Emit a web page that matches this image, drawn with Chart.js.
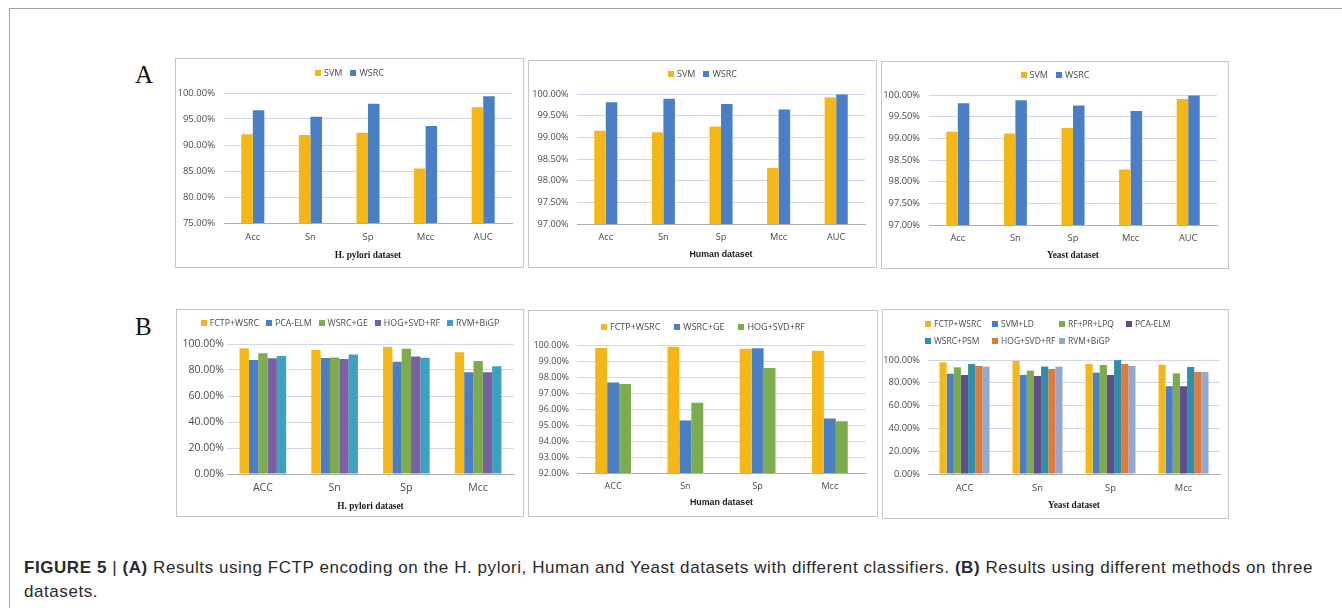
<!DOCTYPE html>
<html>
<head>
<meta charset="utf-8">
<script src="https://cdn.jsdelivr.net/npm/chart.js@4.4.0/dist/chart.umd.min.js"></script>
<style>
  html, body { margin: 0; padding: 0; background: #fff; }
  body { width: 1342px; height: 608px; position: relative; overflow: hidden; }
  #frame { position: absolute; left: 9px; top: 8px; width: 1340px; height: 610px;
           border-left: 1px solid #a2a2a2; border-top: 1px solid #a2a2a2; }
  .panel { position: absolute; box-sizing: border-box; border: 1px solid #c6c6c6; background: #fff; }
  .panel canvas { position: absolute; left: 0; top: 0; }
  .letter { position: absolute; font-family: "Liberation Serif", "DejaVu Serif", serif;
            font-size: 25px; line-height: 25px; color: #111; }
  #caption { position: absolute; left: 24px; top: 556px; white-space: nowrap;
             font-family: "Liberation Sans", Arial, sans-serif; font-size: 17px; line-height: 24px;
             color: #2a2a2a; }
  #caption b { font-weight: bold; }
  #caption span { display: inline-block; }
</style>
</head>
<body>
<div id="frame"></div>
<div class="letter" style="left:135px; top:62px;">A</div>
<div class="letter" style="left:135px; top:314px;">B</div>
<div id="caption"><span id="capLine1"><b>FIGURE 5</b> | <b>(A)</b> Results using FCTP encoding on the H. pylori, Human and Yeast datasets with different classifiers. <b>(B)</b> Results using different methods on three</span><br><span id="capLine2">datasets.</span></div>

<script>
// ---- categories ----
const metricsA = ['Acc', 'Sn', 'Sp', 'Mcc', 'AUC'];
const metricsB = ['ACC', 'Sn', 'Sp', 'Mcc'];

// ---- (A) FCTP encoding with two classifiers (percent) ----
const pyloriSVM  = [92.06, 91.92, 92.37, 85.50, 97.24];
const pyloriWSRC = [96.70, 95.45, 97.95, 93.65, 99.36];
const humanSVM   = [99.15, 99.12, 99.25, 98.29, 99.92];
const humanWSRC  = [99.81, 99.89, 99.77, 99.64, 99.99];
const yeastSVM   = [99.15, 99.11, 99.24, 98.28, 99.91];
const yeastWSRC  = [99.81, 99.88, 99.76, 99.63, 99.99];

// ---- (B) method comparison, H. pylori ----
const pyFCTP = [96.70, 95.45, 97.95, 93.65];
const pyPCA  = [87.70, 89.20, 86.40, 78.20];
const pyGE   = [92.80, 89.70, 96.30, 86.90];
const pyHOG  = [89.00, 88.50, 90.30, 78.20];
const pyRVM  = [90.70, 92.00, 89.50, 82.80];

// ---- (B) method comparison, Human ----
const huFCTP = [99.81, 99.89, 99.77, 99.64];
const huGE   = [97.65, 95.28, 99.80, 95.40];
const huHOG  = [97.56, 96.39, 98.57, 95.24];

// ---- (B) method comparison, Yeast ----
const yeFCTP = [98.00, 99.10, 96.50, 95.90];
const yeLD   = [88.00, 86.90, 88.90, 77.00];
const yeLPQ  = [93.60, 90.70, 95.60, 88.30];
const yePCA  = [86.90, 86.00, 86.90, 77.00];
const yePSM  = [96.50, 94.20, 99.90, 93.90];
const yeHOG  = [94.80, 92.10, 96.50, 89.50];
const yeRVM  = [94.20, 94.20, 94.80, 89.50];

// ---- palette ----
const C = {
  gold: '#f5b718', blue: '#4a7fc6', green: '#7eab4d', purple: '#7a5fa2',
  teal: '#3aa3bf', dpurple: '#614b8d', dteal: '#2d8fa9', orange: '#e07a38', lav: '#93a8d3'
};
const TXT = '#4a4a4a';
const GRID = '#cdd8ea';
const AXIS = '#b0b0b0';
const pct = v => Number(v).toFixed(2) + '%';

const panels = [
  { box: [175, 58, 523, 267], plot: [224, 93, 512, 223], min: 75, max: 100, step: 5,
    labels: metricsA, cat: 0.4, tickSize: 9.5, labelGap: 9, xLabelY: 237.7,
    title: 'H. pylori dataset', titleFont: 'serif', titleY: 254.3,
    series: [['SVM', pyloriSVM, C.gold], ['WSRC', pyloriWSRC, C.blue]],
    legend: { ys: [73.3], rows: [[0, 1]], spacing: 8, size: 9 } },
  { box: [528, 60, 876, 267], plot: [577, 94, 865, 224], min: 97, max: 100, step: 0.5,
    labels: metricsA, cat: 0.4, tickSize: 9.2, labelGap: 8.5, xLabelY: 237.7,
    title: 'Human dataset', titleFont: 'sans', titleY: 254,
    series: [['SVM', humanSVM, C.gold], ['WSRC', humanWSRC, C.blue]],
    legend: { ys: [74], rows: [[0, 1]], spacing: 8, size: 9 } },
  { box: [881, 61, 1228, 268], plot: [929, 95, 1217, 225], min: 97, max: 100, step: 0.5,
    labels: metricsA, cat: 0.4, tickSize: 9.3, labelGap: 9, xLabelY: 238.3,
    title: 'Yeast dataset', titleFont: 'serif', titleY: 255,
    series: [['SVM', yeastSVM, C.gold], ['WSRC', yeastWSRC, C.blue]],
    legend: { ys: [75], rows: [[0, 1]], spacing: 8, size: 9 } },
  { box: [176, 309, 523, 516], plot: [227, 344, 514, 474], min: 0, max: 100, step: 10,
    labels: metricsB, cat: 0.65, tickSize: 10.5, labelGap: 3, xLabelY: 488.3,
    title: 'H. pylori dataset', titleFont: 'serif', titleY: 506,
    series: [['FCTP+WSRC', pyFCTP, C.gold], ['PCA-ELM', pyPCA, C.blue], ['WSRC+GE', pyGE, C.green],
             ['HOG+SVD+RF', pyHOG, C.purple], ['RVM+BiGP', pyRVM, C.teal]],
    legend: { ys: [323.3], rows: [[0, 1, 2, 3, 4]], spacing: 7, size: 8.8 } },
  { box: [528, 310, 877, 516], plot: [577, 345, 866, 473], min: 92, max: 100, step: 1,
    labels: metricsB, cat: 0.495, tickSize: 9, labelGap: 8, xLabelY: 486.7,
    title: 'Human dataset', titleFont: 'sans', titleY: 501.7,
    series: [['FCTP+WSRC', huFCTP, C.gold], ['WSRC+GE', huGE, C.blue], ['HOG+SVD+RF', huHOG, C.green]],
    legend: { ys: [326.7], rows: [[0, 1, 2]], spacing: 14, size: 9 } },
  { box: [882, 309, 1228, 518], plot: [928, 360, 1220, 474], min: 0, max: 100, step: 20,
    labels: metricsB, cat: 0.685, tickSize: 9.3, labelGap: 8, xLabelY: 488.3,
    title: 'Yeast dataset', titleFont: 'serif', titleY: 505,
    series: [['FCTP+WSRC', yeFCTP, C.gold], ['SVM+LD', yeLD, C.blue], ['RF+PR+LPQ', yeLPQ, C.green],
             ['PCA-ELM', yePCA, C.dpurple], ['WSRC+PSM', yePSM, C.dteal], ['HOG+SVD+RF', yeHOG, C.orange],
             ['RVM+BiGP', yeRVM, C.lav]],
    legend: { ys: [324.3, 341], rows: [[0, 1, 2, 3], [4, 5, 6]], cols: [925, 992, 1059, 1126], size: 8.5 } }
];

function buildPanel(p) {
  const [bl, bt, br, bb] = p.box;
  const div = document.createElement('div');
  div.className = 'panel';
  div.style.left = bl + 'px';
  div.style.top = bt + 'px';
  div.style.width = (br - bl + 1) + 'px';
  div.style.height = (bb - bt + 1) + 'px';
  document.body.appendChild(div);

  const ox = bl + 1, oy = bt + 1;
  const cw = br - bl - 1, ch = bb - bt - 1;
  const cv = document.createElement('canvas');
  cv.width = cw; cv.height = ch;
  cv.style.width = cw + 'px'; cv.style.height = ch + 'px';
  div.appendChild(cv);

  const padL = p.plot[0] - ox;
  const padT = p.plot[1] - oy;
  const padR = cw - (p.plot[2] - ox);
  const plotB = p.plot[3] - oy;
  const xAxisH = ch - plotB;

  const tickFont = { family: '"Open Sans", "Liberation Sans", sans-serif', size: p.tickSize };
  const titleSize = p.titleFont === 'serif' ? 9.3 : 8.8;
  const titleFont = p.titleFont === 'serif'
    ? { family: '"Liberation Serif", "DejaVu Serif", serif', size: titleSize, weight: 'bold' }
    : { family: '"Liberation Sans", Arial, sans-serif', size: titleSize, weight: 'bold' };
  const xTickPad = (p.xLabelY - p.plot[3]) - 0.6 * p.tickSize;
  const titlePadB = (bb - p.titleY) - 0.6 * titleSize - 1;

  const legendFont = p.legend.size + 'px "Open Sans", "Liberation Sans", sans-serif';
  const legendPlugin = {
    id: 'panelLegend',
    afterDraw(chart) {
      const ctx = chart.ctx;
      const ds = chart.data.datasets;
      const box = 6, gap = 3;
      ctx.save();
      ctx.font = legendFont;
      ctx.textBaseline = 'middle';
      ctx.textAlign = 'left';
      p.legend.rows.forEach((row, r) => {
        const y = p.legend.ys[r] - oy;
        let xs;
        if (p.legend.cols) {
          xs = p.legend.cols.map(c => c - ox);
        } else {
          const widths = row.map(i => box + gap + ctx.measureText(ds[i].label).width);
          const total = widths.reduce((a, b) => a + b, 0) + p.legend.spacing * (row.length - 1);
          let x = cw / 2 - total / 2;
          xs = widths.map(w => { const s = x; x += w + p.legend.spacing; return s; });
        }
        row.forEach((i, k) => {
          ctx.fillStyle = ds[i].backgroundColor;
          ctx.fillRect(Math.round(xs[k]), Math.round(y - box / 2), box, box);
          ctx.fillStyle = TXT;
          ctx.fillText(ds[i].label, xs[k] + box + gap, y + 0.5);
        });
      });
      ctx.restore();
    }
  };

  new Chart(cv, {
    type: 'bar',
    data: {
      labels: p.labels,
      datasets: p.series.map(([name, values, color]) => ({
        label: name, data: values, backgroundColor: color, borderWidth: 0,
        categoryPercentage: p.cat, barPercentage: 1
      }))
    },
    options: {
      responsive: false,
      animation: false,
      devicePixelRatio: 1,
      layout: { padding: { left: 0, top: padT, right: padR, bottom: 0 } },
      plugins: { legend: { display: false }, tooltip: { enabled: false } },
      scales: {
        x: {
          grid: { display: false, drawTicks: false },
          border: { display: true, color: AXIS, width: 1 },
          ticks: { font: tickFont, color: TXT, padding: xTickPad, maxRotation: 0 },
          title: { display: true, text: p.title, font: titleFont, color: '#1a1a1a',
                   padding: { top: 0, bottom: titlePadB } },
          afterFit(scale) { scale.height = xAxisH; }
        },
        y: {
          min: p.min, max: p.max,
          grid: { color: GRID, lineWidth: 1, drawTicks: false },
          border: { display: false },
          ticks: { stepSize: p.step, font: tickFont, color: TXT, padding: p.labelGap,
                   callback: v => pct(v) },
          afterFit(scale) { scale.width = padL; }
        }
      }
    },
    plugins: [legendPlugin]
  });
}

panels.forEach(buildPanel);

// Spread the first caption line across the full text column (ends near x = 1313).
(function fitCaption() {
  const line = document.getElementById('capLine1');
  const cap = document.getElementById('caption');
  const target = 1313 - 24;
  const w = line.getBoundingClientRect().width;
  const n = line.textContent.length;
  const ls = Math.max(0, (target - w) / n);
  cap.style.letterSpacing = ls.toFixed(3) + 'px';
})();
</script>
</body>
</html>
